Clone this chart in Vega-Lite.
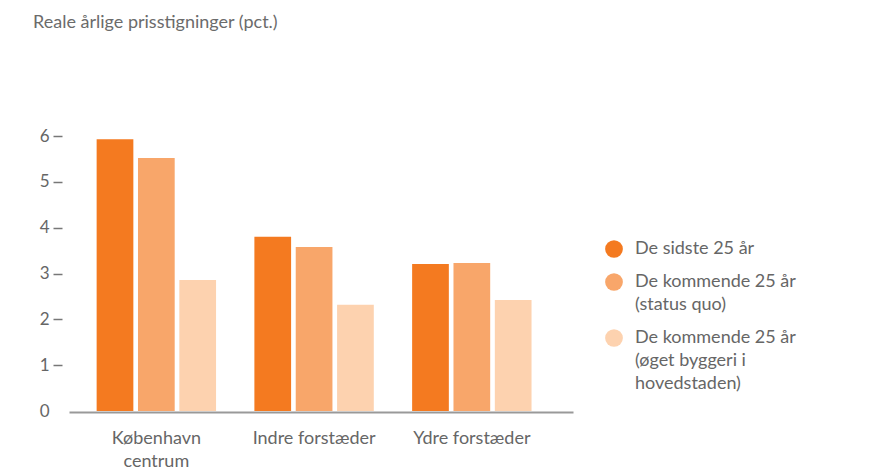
{
  "$schema": "https://vega.github.io/schema/vega-lite/v6.json",
  "autosize": {"type": "none"},
  "padding": {"left": 69, "top": 136, "right": 308, "bottom": 59},
  "width": 504,
  "height": 275,
  "background": "white",
  "title": {
    "text": "Reale årlige prisstigninger (pct.)",
    "anchor": "start",
    "frame": "group",
    "orient": "top",
    "dx": -36,
    "offset": 81,
    "baseline": "alphabetic",
    "font": "Lato",
    "fontSize": 18,
    "fontWeight": "normal",
    "color": "#6b6b6b"
  },
  "data": {
    "values": [
      {"omraade": "København centrum", "serie": "De sidste 25 år", "vaerdi": 5.93},
      {"omraade": "København centrum", "serie": "De kommende 25 år (status quo)", "vaerdi": 5.52},
      {"omraade": "København centrum", "serie": "De kommende 25 år (øget byggeri i hovedstaden)", "vaerdi": 2.86},
      {"omraade": "Indre forstæder", "serie": "De sidste 25 år", "vaerdi": 3.8},
      {"omraade": "Indre forstæder", "serie": "De kommende 25 år (status quo)", "vaerdi": 3.58},
      {"omraade": "Indre forstæder", "serie": "De kommende 25 år (øget byggeri i hovedstaden)", "vaerdi": 2.32},
      {"omraade": "Ydre forstæder", "serie": "De sidste 25 år", "vaerdi": 3.21},
      {"omraade": "Ydre forstæder", "serie": "De kommende 25 år (status quo)", "vaerdi": 3.23},
      {"omraade": "Ydre forstæder", "serie": "De kommende 25 år (øget byggeri i hovedstaden)", "vaerdi": 2.42}
    ]
  },
  "mark": {"type": "bar", "strokeWidth": 0},
  "encoding": {
    "x": {
      "field": "omraade",
      "type": "nominal",
      "sort": ["København centrum", "Indre forstæder", "Ydre forstæder"],
      "scale": {"paddingInner": 0.243, "paddingOuter": 0.219, "align": 0.4},
      "axis": {
        "title": null,
        "labelAngle": 0,
        "ticks": false,
        "grid": false,
        "offset": 1,
        "domainColor": "#999999",
        "domainWidth": 2,
        "labelPadding": 17,
        "labelFont": "Lato",
        "labelFontSize": 18,
        "labelColor": "#666666",
        "labelExpr": "datum.label == 'København centrum' ? ['København', 'centrum'] : datum.label"
      }
    },
    "xOffset": {
      "field": "serie",
      "type": "nominal",
      "sort": ["De sidste 25 år", "De kommende 25 år (status quo)", "De kommende 25 år (øget byggeri i hovedstaden)"],
      "scale": {"paddingInner": 0.112, "paddingOuter": 0}
    },
    "y": {
      "field": "vaerdi",
      "type": "quantitative",
      "scale": {"domain": [0, 6], "nice": false},
      "axis": {
        "title": null,
        "values": [0, 1, 2, 3, 4, 5, 6],
        "domain": false,
        "grid": false,
        "offset": 7,
        "tickSize": 9,
        "tickWidth": 1.5,
        "tickColor": "#777777",
        "tickOpacity": {"condition": {"test": "datum.value == 0", "value": 0}, "value": 1},
        "labelPadding": 4,
        "labelFont": "Lato",
        "labelFontSize": 17,
        "labelColor": "#666666"
      }
    },
    "color": {
      "field": "serie",
      "type": "nominal",
      "scale": {
        "domain": ["De sidste 25 år", "De kommende 25 år (status quo)", "De kommende 25 år (øget byggeri i hovedstaden)"],
        "range": ["#F47A20", "#F8A66A", "#FDD2AF"]
      },
      "legend": {
        "title": null,
        "orient": "none",
        "legendX": 536,
        "legendY": 104,
        "padding": 0,
        "rowPadding": 15,
        "symbolType": "circle",
        "symbolSize": 314,
        "symbolStrokeWidth": 0,
        "symbolOpacity": 1,
        "labelOffset": 12,
        "labelFont": "Lato",
        "labelFontSize": 18,
        "labelColor": "#666666",
        "labelBaseline": "middle",
        "labelLimit": 300,
        "labelExpr": "datum.label == 'De kommende 25 år (status quo)' ? ['De kommende 25 år', '(status quo)'] : datum.label == 'De kommende 25 år (øget byggeri i hovedstaden)' ? ['De kommende 25 år', '(øget byggeri i', 'hovedstaden)'] : datum.label"
      }
    }
  },
  "config": {
    "view": {"stroke": null},
    "style": {"guide-label": {"lineHeight": 23}}
  }
}
